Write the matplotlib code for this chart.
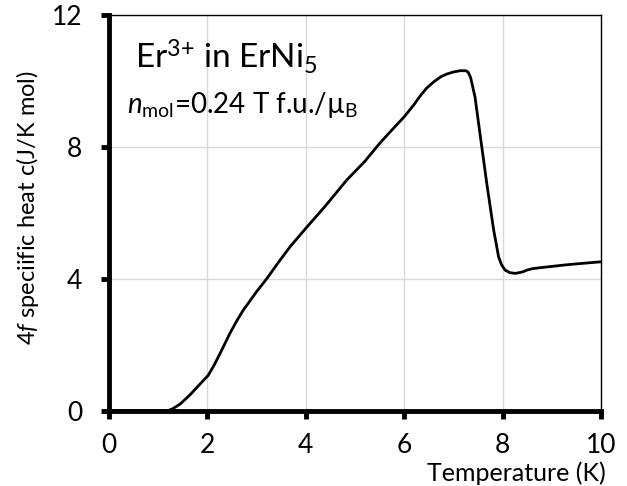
import numpy as np
import matplotlib
matplotlib.use('Agg')
import matplotlib.pyplot as plt

plt.rcParams['font.family'] = ['Lato', 'DejaVu Sans']
plt.rcParams['mathtext.fontset'] = 'custom'
plt.rcParams['mathtext.rm'] = 'Lato'
plt.rcParams['mathtext.it'] = 'Lato:italic'

# 4f specific heat of Er3+ in ErNi5
temperature = [0.0, 1.0, 1.2, 1.3, 1.45, 1.65, 1.85, 2.02, 2.14, 2.26, 2.46,
               2.6, 2.73, 2.87, 3.0, 3.21, 3.45, 3.68, 4.0, 4.4, 4.83, 5.2,
               5.51, 5.75, 6.0, 6.2, 6.32, 6.45, 6.6, 6.75, 6.87, 7.0, 7.14,
               7.25, 7.3, 7.35, 7.44, 7.55, 7.68, 7.82, 7.92, 7.98, 8.05,
               8.15, 8.26, 8.4, 8.5, 8.6, 8.7, 9.0, 9.3, 9.6, 10.0]
heat = [0.0, 0.0, 0.0, 0.06, 0.2, 0.48, 0.8, 1.07, 1.38, 1.73, 2.34,
        2.72, 3.04, 3.33, 3.6, 4.0, 4.5, 4.96, 5.52, 6.2, 6.98, 7.55,
        8.11, 8.5, 8.9, 9.27, 9.52, 9.76, 9.96, 10.12, 10.2, 10.26, 10.3,
        10.3, 10.26, 10.1, 9.51, 8.3, 6.88, 5.47, 4.66, 4.42, 4.26,
        4.18, 4.16, 4.2, 4.26, 4.3, 4.32, 4.37, 4.42, 4.46, 4.51]

xticks = [0, 2, 4, 6, 8, 10]
yticks = [0, 4, 8, 12]

fig = plt.figure(figsize=(6.27, 4.86), dpi=100)
ax = fig.add_axes([0.1735, 0.155, 0.785, 0.815])

ax.plot(temperature, heat, color='black', lw=2,
        solid_capstyle='round', solid_joinstyle='round')

ax.set_xlim(0, 10)
ax.set_ylim(0, 12)
ax.set_xticks(xticks)
ax.set_yticks(yticks)
ax.grid(True, color='#d9d9d9', lw=1)
ax.set_axisbelow(True)

for s in ['left', 'bottom']:
    ax.spines[s].set_linewidth(3.5)
for s in ['top', 'right']:
    ax.spines[s].set_linewidth(1)
ax.tick_params(direction='out', length=6, width=3.5, labelsize=19)
ax.tick_params(axis='x', pad=10)
ax.tick_params(axis='y', pad=13)

fig.text(28 / 627, 1 - 208 / 486, '4$\\mathit{f}$ speciific heat c(J/K mol)',
         rotation=90, ha='center', va='center', fontsize=17)
fig.text(516 / 627, 1 - 473 / 486, 'Temperature (K)',
         ha='center', va='center', fontsize=18)

fig.text(135 / 627, 1 - 69 / 486, 'Er$^{3{+}}$ in ErNi$_{5}$',
         ha='left', va='baseline', fontsize=24)
fig.text(127 / 627, 1 - 113 / 486,
         '$\\mathit{n}_{\\mathrm{mol}}$=0.24 T f.u./\u00b5$_{\\mathrm{B}}$',
         ha='left', va='baseline', fontsize=20)

fig.savefig('out.png', dpi=100)
